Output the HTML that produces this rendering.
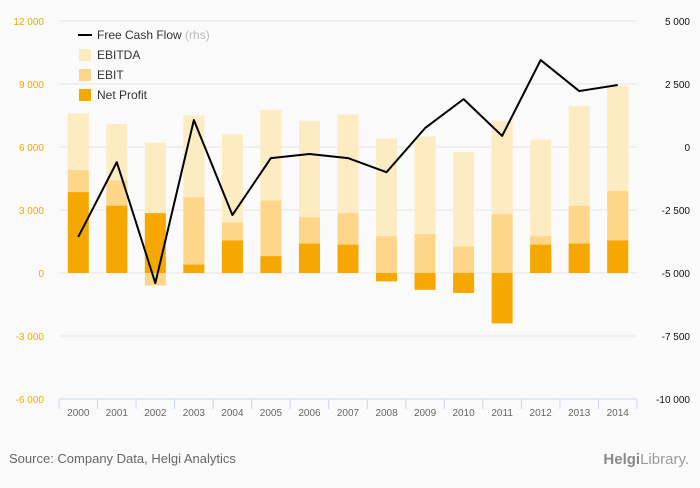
<!DOCTYPE html>
<html><head><meta charset="utf-8"><style>
body{margin:0;background:#fafafa;font-family:"Liberation Sans",sans-serif}
#wrap{position:relative;width:700px;height:483px;background:#fafafa}
svg text{font-family:"Liberation Sans",sans-serif}
</style></head><body>
<div id="wrap">
<svg id="chart" width="700" height="483"></svg>
</div>
<script>
const categories=["2000","2001","2002","2003","2004","2005","2006","2007","2008","2009","2010","2011","2012","2013","2014"];
const ebitda=[7600,7100,6200,7500,6600,7750,7250,7550,6400,6500,5750,7250,6350,7950,8900];
const ebit=[4900,4400,-600,3600,2400,3450,2650,2850,1750,1850,1250,2800,1750,3200,3900];
const netProfit=[3850,3200,2850,400,1550,800,1400,1350,-400,-800,-950,-2400,1350,1400,1550];
const fcf=[-3570,-600,-5400,1070,-2700,-440,-280,-440,-1000,750,1900,440,3450,2220,2460];
const leftTicks=[-6000,-3000,0,3000,6000,9000,12000];
const rightTicks=[-10000,-7500,-5000,-2500,0,2500,5000];
const NS="http://www.w3.org/2000/svg";
const svg=document.getElementById('chart');
const x0=59,x1=637,yTop=21,yBot=399;
const band=(x1-x0)/categories.length;
const yL=v=>yBot-(v+6000)/18000*(yBot-yTop);
const yR=v=>yBot-(v+10000)/15000*(yBot-yTop);
const xC=i=>x0+band*(i+0.5);
function mk(tag,attrs,parent){const e=document.createElementNS(NS,tag);for(const k in attrs)e.setAttribute(k,attrs[k]);(parent||svg).appendChild(e);return e;}
// grid
leftTicks.forEach((t,i)=>{
 const g=mk('line',{x1:x0,x2:x1,y1:yL(t),y2:yL(t),stroke:'#e6e6e6','stroke-width':1});
 
 
 const lt=mk('text',{x:44,y:yL(t)+4,'text-anchor':'end','font-size':10,fill:'#f5a800'});
 lt.textContent=t.toLocaleString('en-US').replace(/,/g,' ').replace('-','-');
 
 
});
rightTicks.forEach(t=>{
 const rt=mk('text',{x:690,y:yR(t)+4,'text-anchor':'end','font-size':10,fill:'#111'});
 rt.textContent=t.toLocaleString('en-US').replace(/,/g,' ');
 
 
});
// bars
const bw=21;
function bars(arr,color,name){
 arr.forEach((v,i)=>{
  const y=Math.min(yL(v),yL(0)),h=Math.abs(yL(v)-yL(0));
  const r=mk('rect',{x:xC(i)-bw/2,y:y,width:bw,height:h,fill:color});
  
  
 });
}
bars(ebitda,'#fdebc2','ebitda');
bars(ebit,'#fdd689','ebit');
bars(netProfit,'#f7a800','net-profit');
// x axis
const ax=mk('line',{x1:x0,x2:x1,y1:yBot,y2:yBot,stroke:'#ccd6eb'});


for(let i=0;i<=categories.length;i++){
 const tk=mk('line',{x1:x0+band*i,x2:x0+band*i,y1:yBot,y2:yBot+10,stroke:'#ccd6eb'});
 
 
}
categories.forEach((c,i)=>{
 const t=mk('text',{x:xC(i),y:yBot+17,'text-anchor':'middle','font-size':10,fill:'#666'});
 t.textContent=c;
 
 
});
// line
const pts=fcf.map((v,i)=>xC(i)+','+yR(v)).join(' ');
const pl=mk('polyline',{points:pts,fill:'none',stroke:'#000','stroke-width':2,'stroke-linejoin':'round'});


// legend
const lg=mk('g',{});


const l1=mk('line',{x1:78,x2:92,y1:35,y2:35,stroke:'#000','stroke-width':2},lg);


const t1=mk('text',{x:97,y:39,'font-size':12,fill:'#333'},lg);
t1.innerHTML='Free Cash Flow <tspan fill="#bbb">(rhs)</tspan>';


[['EBITDA','#fdebc2',55],['EBIT','#fdd689',75],['Net Profit','#f7a800',95]].forEach(d=>{
 const r=mk('rect',{x:79,y:d[2]-6,width:12,height:12,fill:d[1]},lg);
 
 
 const t=mk('text',{x:97,y:d[2]+4,'font-size':12,fill:'#333'},lg);
 t.textContent=d[0];
 
 
});
const src=mk('text',{x:9,y:463,'font-size':13,fill:'#666'});
src.textContent='Source: Company Data, Helgi Analytics';


const logo=mk('text',{x:689,y:464,'text-anchor':'end','font-size':15,fill:'#999','font-family':'Liberation Serif'});
logo.innerHTML='<tspan font-weight="bold" fill="#888">Helgi</tspan>Library.';


</script>
</body></html>
